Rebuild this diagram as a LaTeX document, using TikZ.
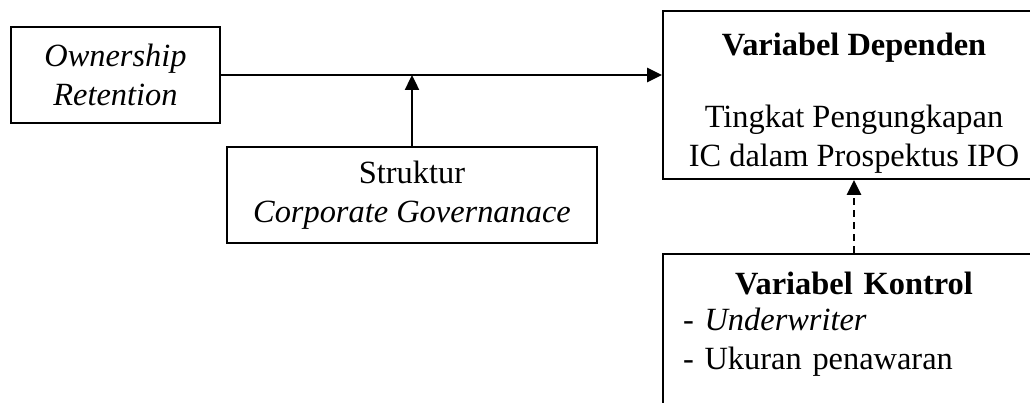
\documentclass[tikz,border=0pt]{standalone}
\usepackage{fontspec}
\setmainfont{Liberation Serif}
\usetikzlibrary{arrows.meta}

\tikzset{
  varbox/.style={draw, line width=1.8pt, align=center,
    font=\fontsize{32.4pt}{39pt}\selectfont},
  link/.style={line width=2.4pt, -{Triangle[length=15pt,width=14pt]}},
}

\begin{document}
\begin{tikzpicture}[x=1pt,y=-1pt]
\useasboundingbox (0,0) rectangle (1030,403);
\clip (0,0) rectangle (1030,403);
    \node[varbox, minimum width=209pt, minimum height=96pt] (own) at (115.5,75)
        {\textit{Ownership}\\\textit{Retention}};
    \node[varbox, minimum width=370pt, minimum height=96pt] (struk) at (412,195)
        {Struktur\\\textit{Corporate Governanace}};
    \node[varbox, minimum width=382pt, minimum height=168pt] (dep) at (854,95)
        {\rule{0pt}{38pt}\textbf{Variabel Dependen}\\[33pt]
         Tingkat Pengungkapan\\IC dalam Prospektus IPO};
    \node[varbox, anchor=north, minimum width=382pt, inner xsep=20pt, inner ysep=18pt,
          text width=342pt, align=left] (kon) at (854,253)
        {\makebox[342pt]{\textbf{Variabel Kontrol}}\\[-3pt]
         - \textit{Underwriter}\\- Ukuran penawaran\\[30pt]\mbox{}};
    % arrows
    \draw[link] (own.east) -- (own.east -| dep.west);
    \draw[link] (struk.north) -- (struk.north |- own.east);
    \draw[link, dash pattern=on 7pt off 5pt] (kon.north) -- (dep.south);
\end{tikzpicture}
\end{document}
